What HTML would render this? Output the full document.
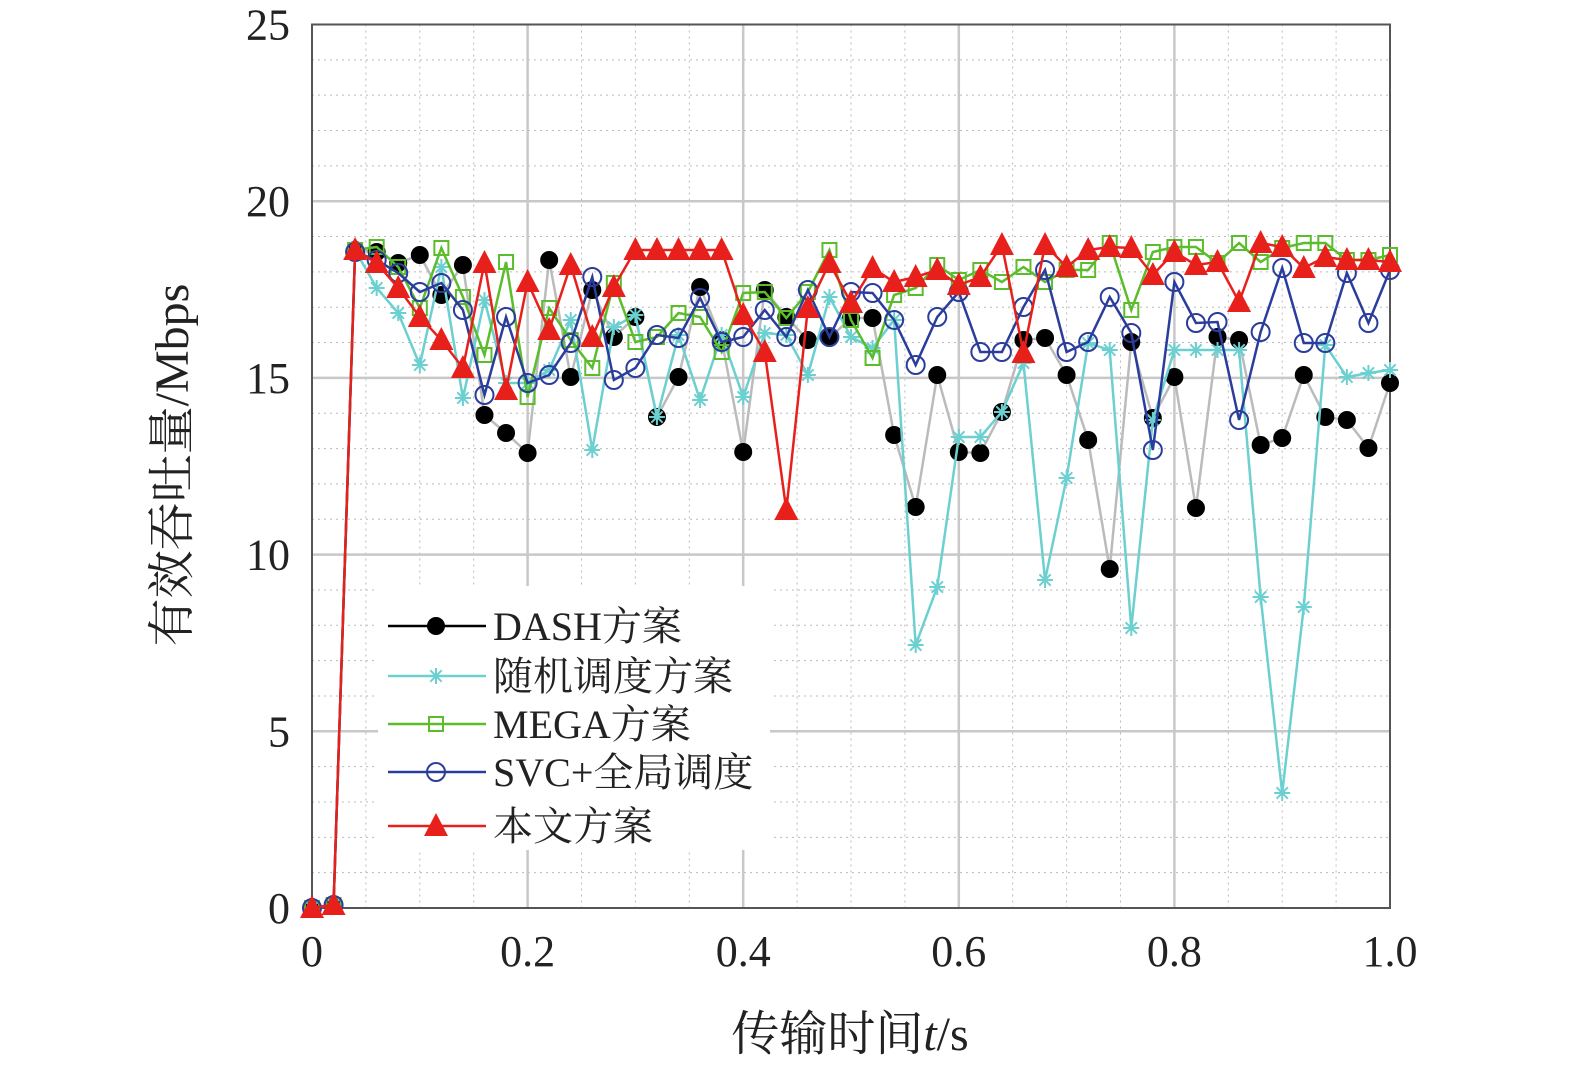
<!DOCTYPE html>
<html><head><meta charset="utf-8"><style>
html,body{margin:0;padding:0;background:#fff;}
svg{display:block;}
text{font-family:"Liberation Serif","Noto Serif CJK SC",serif;fill:#222;}
</style></head><body>
<svg id="s" width="1575" height="1072" xmlns="http://www.w3.org/2000/svg"></svg>
<script>
const s=document.getElementById('s');
const X0=312,X1=1390,Y0=908,YT=24.5;
const xs=i=>X0+(X1-X0)*i/50;
let h='';
for(let k=1;k<20;k++){if(k%4==0)continue;const x=X0+(X1-X0)*k/20;h+=`<line x1="${x}" y1="${YT}" x2="${x}" y2="${Y0}" stroke="#bbb" stroke-width="1" stroke-dasharray="2,4"/>`;}
for(let k=1;k<25;k++){if(k%5==0)continue;const y=Y0-(Y0-YT)*k/25;h+=`<line x1="${X0}" y1="${y}" x2="${X1}" y2="${y}" stroke="#bbb" stroke-width="1" stroke-dasharray="2,4"/>`;}
for(let k=1;k<5;k++){const x=X0+(X1-X0)*k/5;h+=`<line x1="${x}" y1="${YT}" x2="${x}" y2="${Y0}" stroke="#c8c8c8" stroke-width="2.5"/>`;}
for(let k=1;k<5;k++){const y=Y0-(Y0-YT)*k/5;h+=`<line x1="${X0}" y1="${y}" x2="${X1}" y2="${y}" stroke="#c8c8c8" stroke-width="2.5"/>`;}
h+=`<rect x="${X0}" y="${YT}" width="${X1-X0}" height="${Y0-YT}" fill="none" stroke="#555" stroke-width="2"/>`;
const xl=['0','0.2','0.4','0.6','0.8','1.0'];
xl.forEach((t,k)=>{h+=`<text x="${X0+(X1-X0)*k/5}" y="966" font-size="44" text-anchor="middle">${t}</text>`;});
for(let k=0;k<=5;k++){h+=`<text x="290" y="${Y0-(Y0-YT)*k/5+15}" font-size="44" text-anchor="end">${k*5}</text>`;}
h+=`<text x="850" y="1050" font-size="48" text-anchor="middle">传输时间<tspan font-style="italic">t</tspan>/s</text>`;
h+=`<text transform="translate(188,465) rotate(-90)" font-size="48" text-anchor="middle">有效吞吐量/Mbps</text>`;
const D={
k:[908,905,250,252,263,255,295,265,415,433,453,260,377,290,337,317,417,377,287,340,452,290,317,340,338,318,318,435,507,375,452,453,412,340,338,375,440,569,342,418,377,508,337,340,445,438,375,417,420,448,383],
c:[908,905,250,288,313,365,267,398,300,383,383,370,320,450,327,315,417,335,400,335,397,333,335,375,297,337,348,320,645,587,437,437,412,363,580,478,343,350,628,420,350,350,350,350,597,793,607,345,377,373,370],
g:[908,905,250,247,267,308,248,297,355,262,397,308,340,368,283,342,337,313,317,352,293,292,318,292,250,320,358,295,288,265,280,270,282,267,282,270,270,243,310,252,247,247,263,243,262,248,243,243,260,260,255],
b:[908,905,252,260,273,292,283,310,395,317,383,375,343,277,380,368,335,338,298,342,337,310,337,290,337,292,293,320,365,317,292,352,352,307,270,352,342,297,333,450,282,323,322,420,332,268,343,343,273,323,270],
r:[908,905,250,263,288,317,340,368,263,390,282,330,265,337,287,250,250,250,250,250,315,352,510,308,263,303,268,282,277,270,285,277,245,353,245,267,250,247,248,275,252,265,262,302,243,247,268,257,260,260,262]};
const col={k:'#000',c:'#6cd0d0',g:'#5bbd2b',b:'#2b3d9c',r:'#e8201c'};
const lc={k:'#bbb',c:'#6cd0d0',g:'#5bbd2b',b:'#2b3d9c',r:'#e8201c'};
function mk(t,x,y){const c=col[t];
 if(t=='k')return `<circle cx="${x}" cy="${y}" r="9" fill="#000"/>`;
 if(t=='c'){let o='';for(let a=0;a<4;a++){const an=a*Math.PI/4,dx=8*Math.cos(an),dy=8*Math.sin(an);o+=`<line x1="${x-dx}" y1="${y-dy}" x2="${x+dx}" y2="${y+dy}" stroke="${c}" stroke-width="2"/>`;}return o;}
 if(t=='g')return `<rect x="${x-7}" y="${y-7}" width="14" height="14" fill="none" stroke="${c}" stroke-width="2"/>`;
 if(t=='b')return `<circle cx="${x}" cy="${y}" r="9" fill="none" stroke="${c}" stroke-width="2"/>`;
 return `<polygon points="${x},${y-13} ${x+12},${y+10} ${x-12},${y+10}" fill="${c}"/>`;}
['k','c','g','b','r'].forEach(t=>{const a=D[t];h+=`<polyline fill="none" stroke="${lc[t]}" stroke-width="2.5" points="${a.map((y,i)=>xs(i)+','+y).join(' ')}"/>`;a.forEach((y,i)=>h+=mk(t,xs(i),y));});
h+=`<rect x="378" y="586" width="392" height="264" fill="#fff"/>`;
const L=[['k','DASH方案',626],['c','随机调度方案',676],['g','MEGA方案',724],['b','SVC+全局调度',772],['r','本文方案',826]];
L.forEach(([t,n,y])=>{h+=`<line x1="388" y1="${y}" x2="486" y2="${y}" stroke="${col[t]}" stroke-width="2.5"/>`+mk(t,436,y)+`<text x="493" y="${y+14}" font-size="40">${n}</text>`;});
s.innerHTML=h;
</script>
</body></html>
